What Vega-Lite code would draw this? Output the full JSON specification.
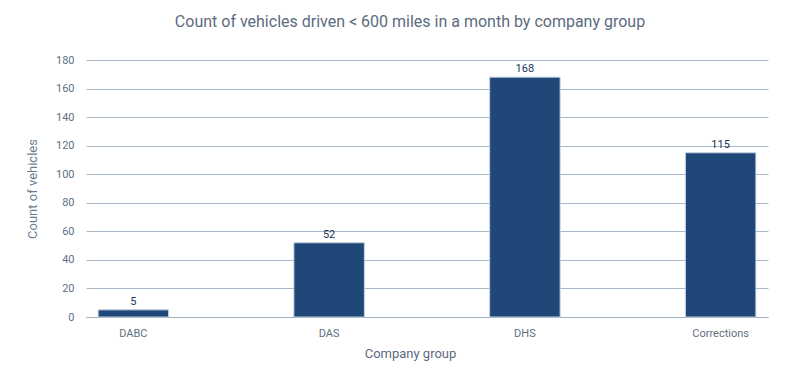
{
  "$schema": "https://vega.github.io/schema/vega-lite/v6.json",
  "autosize": "none",
  "width": 682,
  "height": 257,
  "padding": {"left": 86, "top": 60, "right": 25, "bottom": 64},
  "background": "#ffffff",
  "config": {
    "font": "Roboto",
    "view": {"stroke": null}
  },
  "title": {
    "text": "Count of vehicles driven < 600 miles in a month by company group",
    "fontSize": 16,
    "fontWeight": "normal",
    "color": "#5b6b80",
    "anchor": "middle",
    "dx": -17,
    "offset": 24
  },
  "data": {
    "values": [
      {"group": "DABC", "count": 5},
      {"group": "DAS", "count": 52},
      {"group": "DHS", "count": 168},
      {"group": "Corrections", "count": 115}
    ]
  },
  "encoding": {
    "x": {
      "field": "group",
      "type": "nominal",
      "sort": null,
      "scale": {"paddingInner": 0.64, "paddingOuter": 0.062},
      "axis": {
        "title": "Company group",
        "titleFontSize": 13,
        "titleFontWeight": "normal",
        "titleColor": "#5b6b80",
        "titleX": 324,
        "titlePadding": 9,
        "labelAngle": 0,
        "labelFontSize": 11,
        "labelColor": "#5f6f82",
        "labelPadding": 10,
        "ticks": false,
        "domainColor": "#9fb0c0",
        "grid": false
      }
    },
    "y": {
      "field": "count",
      "type": "quantitative",
      "scale": {"domain": [0, 180]},
      "axis": {
        "title": "Count of vehicles",
        "titleFontSize": 13,
        "titleFontWeight": "normal",
        "titleColor": "#6b7c90",
        "titlePadding": 16,
        "values": [0, 20, 40, 60, 80, 100, 120, 140, 160, 180],
        "labelFontSize": 11,
        "labelColor": "#5f6f82",
        "labelPadding": 12,
        "ticks": false,
        "domain": false,
        "gridColor": "#a9b8c6",
        "gridWidth": 1
      }
    }
  },
  "layer": [
    {
      "mark": {"type": "bar", "color": "#1f4778", "stroke": "#c5d1dd", "strokeWidth": 1}
    },
    {
      "mark": {"type": "text", "dy": -8, "fontSize": 11, "fontWeight": "normal", "color": "#17345e"},
      "encoding": {"text": {"field": "count", "type": "quantitative"}}
    }
  ]
}
